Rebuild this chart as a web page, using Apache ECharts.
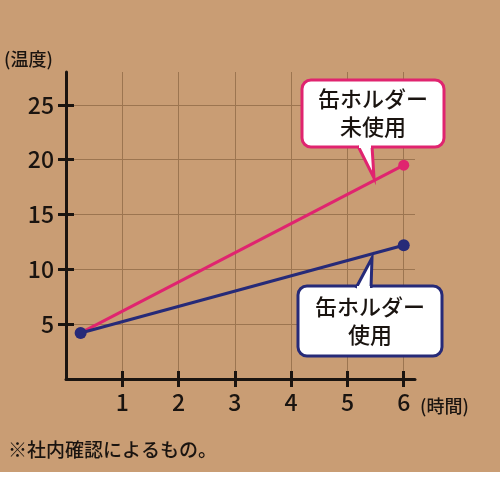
<!DOCTYPE html>
<html>
<head>
<meta charset="utf-8">
<script src="https://cdn.jsdelivr.net/npm/echarts@6/dist/echarts.min.js"></script>
<style>
html,body{margin:0;padding:0;background:#fff;}
#chart{width:500px;height:500px;}
</style>
</head>
<body>
<div id="chart"></div>
<script>
var xTicks = [1, 2, 3, 4, 5, 6];
var yTicks = [5, 10, 15, 20, 25];
var unused = [[0.26, 4.2], [6, 19.5]];
var used = [[0.26, 4.2], [6, 12.2]];
var font = '"Noto Sans CJK JP", "Noto Sans", sans-serif';
var ink = '#1a1410';
var pink = '#e0246f';
var navy = '#262a78';

var myChart = echarts.init(document.getElementById('chart'));
var yBase = {
  type: 'value', min: 0, max: 28, interval: 5,
  axisLine: { show: true, lineStyle: { color: ink, width: 3 } },
  splitLine: { show: false }
};
var option = {
  backgroundColor: '#c99d74',
  textStyle: { fontFamily: font },
  grid: { left: 66, right: 85, top: 72, bottom: 121 },
  xAxis: [{
    type: 'value', min: 0, max: 6.2, interval: 1,
    axisLine: { show: true, lineStyle: { color: ink, width: 3 } },
    axisTick: { show: true, length: 8, lineStyle: { color: ink, width: 3 },
      customValues: xTicks },
    axisLabel: { color: ink, fontSize: 23, fontWeight: 500, margin: 12, customValues: xTicks },
    splitLine: { show: true, lineStyle: { color: '#9c7550', width: 1 } }
  }, {
    type: 'value', min: 0, max: 6.2, position: 'bottom',
    axisLine: { show: false },
    axisTick: { show: true, inside: true, length: 8, lineStyle: { color: ink, width: 3 },
      customValues: xTicks },
    axisLabel: { show: false }, splitLine: { show: false }
  }],
  yAxis: [Object.assign({}, yBase, {
    axisTick: { show: true, length: 8, lineStyle: { color: ink, width: 3 },
      customValues: yTicks },
    axisLabel: { color: ink, fontSize: 23, fontWeight: 500, margin: 12, customValues: yTicks },
    splitLine: { show: true, lineStyle: { color: '#9c7550', width: 1 } }
  }), Object.assign({}, yBase, {
    position: 'left',
    axisLine: { show: false },
    axisTick: { show: true, inside: true, length: 8, lineStyle: { color: ink, width: 3 },
      customValues: yTicks },
    axisLabel: { show: false }
  })],
  series: [{
    type: 'line', data: unused, symbol: 'circle', symbolSize: 11,
    lineStyle: { color: pink, width: 3 }, itemStyle: { color: pink }, z: 3
  }, {
    type: 'line', data: used, symbol: 'circle', symbolSize: 12,
    lineStyle: { color: navy, width: 3 }, itemStyle: { color: navy }, z: 4
  }],
  graphic: [
    { type: 'rect', left: 0, top: 472, shape: { width: 500, height: 28 }, style: { fill: '#fff' } },
    { type: 'text', left: 4, top: 50, style: { text: '(温度)', fill: ink, fontSize: 18, fontWeight: 500, fontFamily: font } },
    { type: 'text', left: 420, top: 397, style: { text: '(時間)', fill: ink, fontSize: 18, fontWeight: 500, fontFamily: font } },
    { type: 'text', left: 8, top: 440, style: { text: '※社内確認によるもの。', fill: ink, fontSize: 19, fontWeight: 500, fontFamily: font } },
    { type: 'polyline', shape: { points: [[358, 146], [374, 178], [372, 146]] },
      style: { fill: '#fff', stroke: pink, lineWidth: 3 }, z: 10 },
    { type: 'rect', shape: { x: 302, y: 80, width: 142, height: 67, r: 9 },
      style: { fill: '#fff', stroke: pink, lineWidth: 3 }, z: 9 },
    { type: 'rect', shape: { x: 359, y: 140, width: 12, height: 8 }, style: { fill: '#fff' }, z: 11 },
    { type: 'text', x: 373, y: 113, style: { text: '缶ホルダー\n未使用', fill: ink, fontSize: 22, fontWeight: 500, lineHeight: 28,
      fontFamily: font, align: 'center', verticalAlign: 'middle' }, z: 12 },
    { type: 'polyline', shape: { points: [[356, 288], [372, 258], [371, 288]] },
      style: { fill: '#fff', stroke: navy, lineWidth: 3 }, z: 10 },
    { type: 'rect', shape: { x: 298, y: 286, width: 144, height: 70, r: 9 },
      style: { fill: '#fff', stroke: navy, lineWidth: 3 }, z: 9 },
    { type: 'rect', shape: { x: 357, y: 286, width: 13, height: 8 }, style: { fill: '#fff' }, z: 11 },
    { type: 'text', x: 370, y: 321, style: { text: '缶ホルダー\n使用', fill: ink, fontSize: 22, fontWeight: 500, lineHeight: 28,
      fontFamily: font, align: 'center', verticalAlign: 'middle' }, z: 12 }
  ]
};
myChart.setOption(option);
</script>
</body>
</html>
